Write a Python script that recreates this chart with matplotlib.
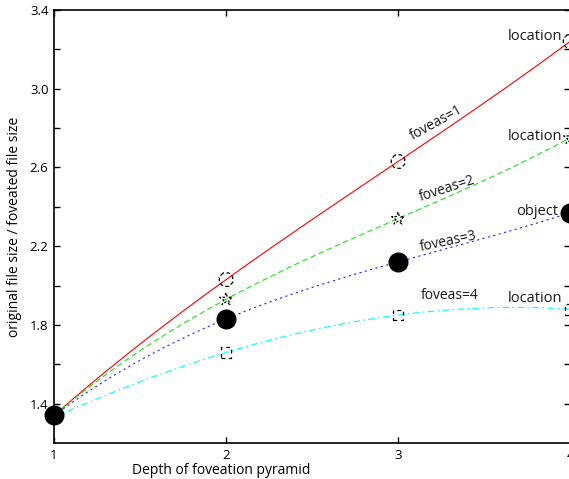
import numpy as np
import matplotlib
matplotlib.use("Agg")
import matplotlib.pyplot as plt
from matplotlib.ticker import FixedLocator

plt.rcParams['font.family'] = ['Open Sans', 'DejaVu Sans']

depth = [1, 2, 3, 4]
foveas1 = [1.34, 2.03, 2.63, 3.24]
foveas2 = [1.34, 1.93, 2.34, 2.75]
foveas3 = [1.34, 1.83, 2.12, 2.37]
foveas4 = [1.33, 1.66, 1.85, 1.88]

series_labels = ["foveas=1", "foveas=2", "foveas=3", "foveas=4"]
end_labels = ["location", "location", "object", "location"]
xlabel = "Depth of foveation pyramid"
ylabel = "original file size / foveated file size"

fig = plt.figure(figsize=(5.69, 4.79), dpi=100)
ax = fig.add_axes([54/569, 36/479, 516/569, 433/479])

xs = np.linspace(1, 4, 200)
styles = [
    dict(color=(1, 0, 0), ls='-'),
    dict(color=(0.1, 0.9, 0.1), ls=(0, (5, 3))),
    dict(color=(0.15, 0.15, 1), ls=(0, (2, 3))),
    dict(color=(0, 1, 1), ls=(0, (6, 3, 1.5, 3))),
]
allser = [foveas1, foveas2, foveas3, foveas4]
for ser, st in zip(allser, styles):
    coef = np.polyfit(depth, ser, 3)
    ax.plot(xs, np.polyval(coef, xs), color=st['color'], ls=st['ls'], lw=0.8, zorder=2)

# markers
ax.scatter(depth[1:], foveas1[1:], marker='8', s=110, facecolors='none',
           edgecolors='k', linewidths=0.9, linestyles=(0, (3, 2)), zorder=3, clip_on=False)
ax.scatter(depth[1:], foveas2[1:], marker='*', s=90, facecolors='none',
           edgecolors='k', linewidths=0.9, linestyles=(0, (2, 1.5)), zorder=3, clip_on=False)
ax.scatter(depth, foveas4, marker='s', s=60, facecolors='none',
           edgecolors='k', linewidths=0.9, linestyles=(0, (3, 3)), zorder=3, clip_on=False)
ax.scatter(depth, foveas3, marker='o', s=180, color='k', zorder=4, clip_on=False)

# annotations along lines
ann = [(3.085, 2.74, 29), (3.134, 2.428, 18), (3.134, 2.174, 12), (3.134, 1.934, 0)]
for lab, (x, y, r) in zip(series_labels, ann):
    ax.text(x, y, lab, fontsize=10, rotation=r, rotation_mode='anchor',
            ha='left', va='baseline', color='#1a1a1a')
end_x = [3.955, 3.955, 3.93, 3.955]
end_y = [3.247, 2.738, 2.357, 1.914]
for lab, x, y in zip(end_labels, end_x, end_y):
    ax.text(x, y, lab, fontsize=10.5, ha='right', va='baseline', color='#1a1a1a')

ax.set_xlim(1, 4)
ax.set_ylim(1.2, 3.4)
ax.xaxis.set_major_locator(FixedLocator([1, 2, 3, 4]))
ax.yaxis.set_major_locator(FixedLocator([1.4, 1.8, 2.2, 2.6, 3.0, 3.4]))
ax.yaxis.set_minor_locator(FixedLocator([1.6, 2.0, 2.4, 2.8, 3.2]))
ax.set_xticklabels(['1', '2', '3', '4'])
ax.set_yticklabels(['1.4', '1.8', '2.2', '2.6', '3.0', '3.4'])
ax.tick_params(which='both', direction='in', length=4, width=1.0,
               top=True, right=True, labelsize=9.5, colors='k', pad=4)
for sp in ax.spines.values():
    sp.set_linewidth(1.2)

ax.set_xlabel(xlabel, fontsize=10)
ax.set_ylabel(ylabel, fontsize=10)
ax.xaxis.set_label_coords(0.324, -0.046)
ax.yaxis.set_label_coords(-0.062, 0.5)

fig.savefig("out.png", dpi=100)
